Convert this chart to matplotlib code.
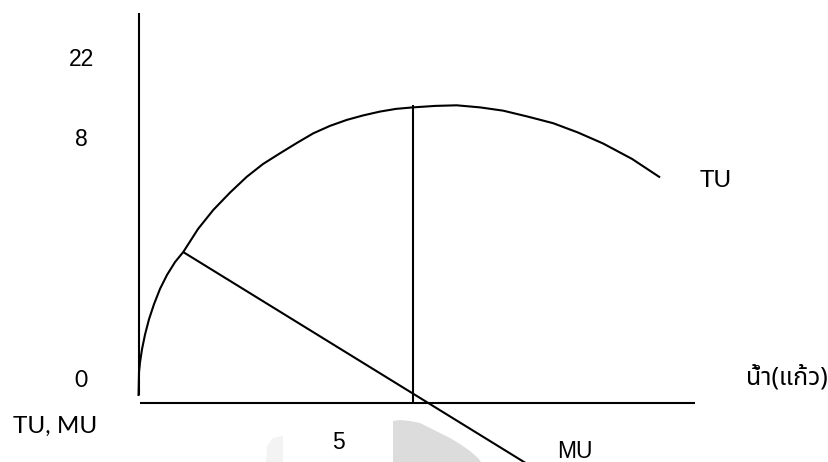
import matplotlib
matplotlib.use("Agg")
import matplotlib.pyplot as plt
from matplotlib.patches import Polygon

# ---- data ----
tu_x = [0.0, 0.009, 0.027, 0.064, 0.119, 0.191, 0.283, 0.392, 0.520, 0.666,
        0.817, 1.085, 1.364, 1.668, 1.973, 2.270, 2.580, 2.890, 3.187, 3.492,
        3.797, 4.094, 4.404, 4.695, 5.00, 5.41, 5.80, 6.23, 6.65, 7.10, 7.56,
        8.01, 8.47, 9.00, 9.51]
tu_y = [0.245, 1.05, 1.37, 1.82, 2.31, 2.82, 3.33, 3.84, 4.31, 4.74,
        5.08, 5.85, 6.49, 7.07, 7.60, 8.03, 8.39, 8.74, 9.06, 9.31,
        9.51, 9.66, 9.79, 9.88, 9.93, 9.98, 10.00, 9.93, 9.82, 9.62, 9.40,
        9.09, 8.72, 8.20, 7.58]
mu_x = [0.82, 7.10]
mu_y = [5.07, -2.05]
q_star = 5.0
tu_at_q_star = 10.01
y_axis_top = 13.1
x_axis_end = 10.15

y_tick_labels = ["22", "8", "0"]
x_tick_labels = ["5"]
tu_label = "TU"
mu_label = "MU"
y_axis_label = "TU, MU"
x_axis_label = "น้ำ(แก้ว)"

# ---- figure ----
W, H = 829, 462
fig = plt.figure(figsize=(W / 100, H / 100), dpi=100)
ax = fig.add_axes([0, 0, 1, 1])
ax.set_xlim(-2.526, 12.591)
ax.set_ylim(-1.970, 13.534)
ax.axis("off")

# faint watermark shapes (in figure pixels)
def px_poly(pts, color):
    p = Polygon([(x / W, 1 - y / H) for x, y in pts], closed=True,
                transform=fig.transFigure, facecolor=color, edgecolor="none", zorder=0)
    fig.patches.append(p)

px_poly([(393, 462), (393, 421), (400, 420), (410, 421), (420, 423), (430, 428),
         (440, 433), (450, 438), (460, 444), (470, 451), (478, 458), (481, 462)], "#dcdcdc")
px_poly([(266, 462), (267, 446), (273, 438), (283, 436), (283, 462)], "#f3f3f3")

lw = 1.5
k = "black"
# axes lines
ax.plot([0, 0], [0.27, y_axis_top], color=k, lw=lw, solid_capstyle="butt")
ax.plot([0.02, x_axis_end], [0, 0], color=k, lw=lw, solid_capstyle="butt")
# TU curve
ax.plot(tu_x, tu_y, color=k, lw=lw, solid_capstyle="butt", solid_joinstyle="round")
# MU line
ax.plot(mu_x, mu_y, color=k, lw=lw, solid_capstyle="butt")
# vertical line at q*
ax.plot([q_star, q_star], [0, tu_at_q_star], color=k, lw=lw, solid_capstyle="butt")

arial = ["Liberation Sans", "DejaVu Sans"]
cal = ["Lato", "DejaVu Sans"]
fs = 16.5
ax.text(-1.036, 11.55, y_tick_labels[0], family=arial, fontsize=fs, ha="center", va="center")
ax.text(-1.036, 8.84, y_tick_labels[1], family=arial, fontsize=fs, ha="center", va="center")
ax.text(-1.054, 0.75, y_tick_labels[2], family=cal, fontsize=fs, ha="center", va="center")
ax.text(-1.523, -0.76, y_axis_label, family=cal, fontsize=fs + 1, ha="center", va="center")
ax.text(3.638, -1.33, x_tick_labels[0], family=arial, fontsize=fs, ha="center", va="center")
ax.text(7.96, -1.62, mu_label, family=arial, fontsize=fs, ha="center", va="center")
ax.text(10.53, 7.49, tu_label, family=cal, fontsize=fs + 1, ha="center", va="center")
ax.text(12.57, 0.85, x_axis_label, family=["Noto Sans Thai", "DejaVu Sans"], fontsize=18,
        ha="right", va="center")

fig.savefig("out.png", dpi=100)
